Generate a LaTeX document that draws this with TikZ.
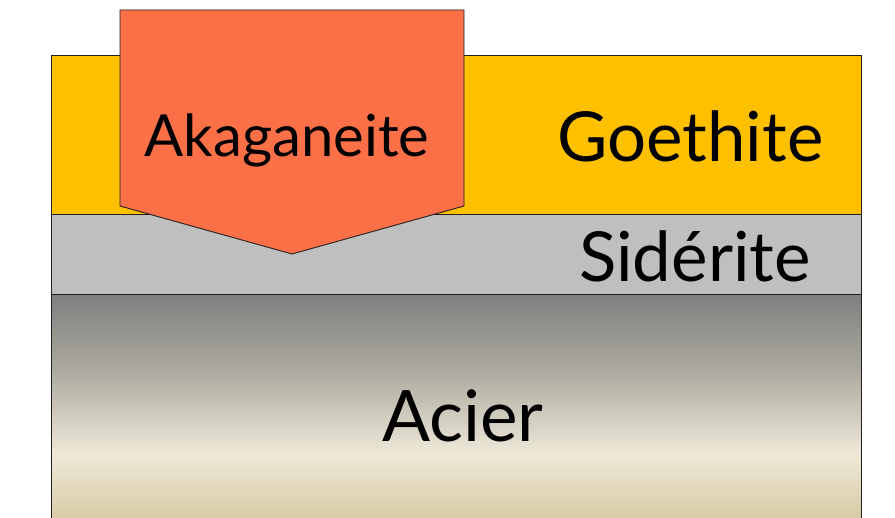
\documentclass[tikz,border=0pt]{standalone}
\usepackage{fontspec}
\setmainfont{Lato}
\definecolor{goethite}{HTML}{FFC000}
\definecolor{siderite}{HTML}{BFBFBF}
\definecolor{akaga}{HTML}{FB7047}
\definecolor{steelA}{HTML}{7F7F7F}
\definecolor{steelB}{HTML}{ACAA9F}
\definecolor{steelC}{HTML}{EEE9D8}
\definecolor{steelD}{HTML}{D8CBA6}
\definecolor{edge}{HTML}{202020}
\begin{document}
\begin{tikzpicture}[x=1pt,y=-1pt,
  layer/.style={draw=edge,line width=0.9pt},
  lbl/.style={anchor=base,inner sep=0pt,text=black}]
\useasboundingbox (0,0) rectangle (895,518);
% steel substrate: stacked vertical gradients
\shade[top color=steelA,bottom color=steelB] (51,294) rectangle (861,371);
\shade[top color=steelB,bottom color=steelC] (51,370) rectangle (861,454);
\shade[top color=steelC,bottom color=steelD] (51,453) rectangle (861,518);
\draw[edge,line width=0.9pt] (51,518) -- (51,294) (861,294) -- (861,518);
% corrosion layers
\path[layer,fill=siderite] (51,214) rectangle (861,294);
\path[layer,fill=goethite] (51,55) rectangle (861,214);
% akaganeite pentagon
\path[layer,fill=akaga] (120,10) -- (464,10) -- (464,206) -- (292,254) -- (120,206) -- cycle;
% labels
\node[lbl,font=\fontsize{58}{58}\selectfont] (aka) at (287,157) {Akaganeite};
\node[lbl,anchor=base west,font=\fontsize{69}{69}\selectfont] (goe) at (557,162) {Goethite};
\node[lbl,anchor=base west,font=\fontsize{69}{69}\selectfont] (sid) at (579,282) {Sidérite};
\node[lbl,font=\fontsize{71}{71}\selectfont] (aci) at (463,442) {Acier};
\end{tikzpicture}
\end{document}
